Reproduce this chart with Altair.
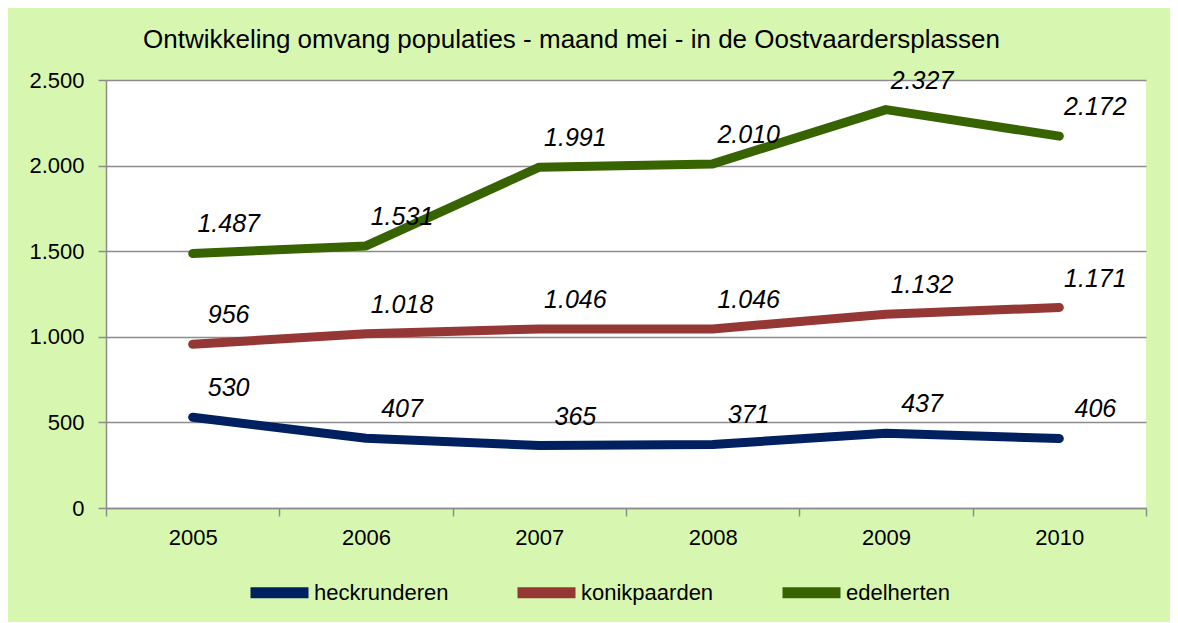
import altair as alt
import pandas as pd

years = ["2005", "2006", "2007", "2008", "2009", "2010"]
heckrunderen = [530, 407, 365, 371, 437, 406]
konikpaarden = [956, 1018, 1046, 1046, 1132, 1171]
edelherten = [1487, 1531, 1991, 2010, 2327, 2172]
series = ["heckrunderen", "konikpaarden", "edelherten"]
colors = ["#002060", "#953735", "#376400"]
y_ticks = [0, 500, 1000, 1500, 2000, 2500]

rows = []
for name, vals in zip(series, [heckrunderen, konikpaarden, edelherten]):
    for yr, v in zip(years, vals):
        rows.append({"jaar": yr, "waarde": v, "soort": name})
df = pd.DataFrame(rows)

FONT = "Liberation Sans"
GRID = "#8c8c8c"

x_enc = alt.X(
    "jaar:N",
    sort=years,
    bandPosition=0.5,
    scale=alt.Scale(type="band", paddingInner=0, paddingOuter=0),
    axis=alt.Axis(
        title=None, labelAngle=0, tickBand="extent", grid=False,
        domainColor=GRID, tickColor=GRID, tickSize=8, domainWidth=1.5, tickWidth=1.5,
        labelFontSize=22, labelFont=FONT, labelColor="black", labelPadding=11,
    ),
)
y_enc = alt.Y(
    "waarde:Q",
    scale=alt.Scale(domain=[0, 2500], nice=False),
    axis=alt.Axis(
        title=None, values=y_ticks, grid=True, gridColor=GRID, gridWidth=1.5,
        domainColor=GRID, tickColor=GRID, tickSize=8, domainWidth=1.5, tickWidth=1.5,
        labelFontSize=22, labelFont=FONT, labelColor="black", labelPadding=14,
        labelExpr="replace(format(datum.value, ','), ',', '.')",
    ),
)
color_enc = alt.Color(
    "soort:N",
    scale=alt.Scale(domain=series, range=colors),
    legend=alt.Legend(
        title=None, orient="none", legendX=139, legendY=478, direction="horizontal",
        columns=3, symbolType="stroke", symbolSize=3364, symbolStrokeWidth=11,
        labelFontSize=22, labelFont=FONT, labelColor="black", labelOffset=0,
        columnPadding=46, symbolOpacity=1,
    ),
)

base = alt.Chart(df).encode(x=x_enc, y=y_enc, color=color_enc)

lines = base.mark_line(strokeWidth=9, strokeCap="round", strokeJoin="round")
labels = base.transform_calculate(
    label="replace(format(datum.waarde, ','), ',', '.')"
).mark_text(
    font=FONT, fontSize=25, fontStyle="italic", align="center", baseline="middle",
    dx=36, dy=-29, color="black",
).encode(text="label:N", color=alt.value("black"))

chart = alt.layer(lines, labels).properties(
    width=1040,
    height=428,
    padding={"left": 98, "top": 72, "right": 24, "bottom": 114},
    autosize="none",
    background="#d7f7b1",
    title=alt.TitleParams(
        "Ontwikkeling omvang populaties - maand mei - in de Oostvaardersplassen",
        anchor="start", dx=37, fontSize=26, font=FONT, fontWeight="normal",
        color="black", frame="group", offset=16,
    ),
).configure_view(fill="white", stroke=None)

chart.save("out.html", embed_options={"renderer": "svg", "actions": False})
